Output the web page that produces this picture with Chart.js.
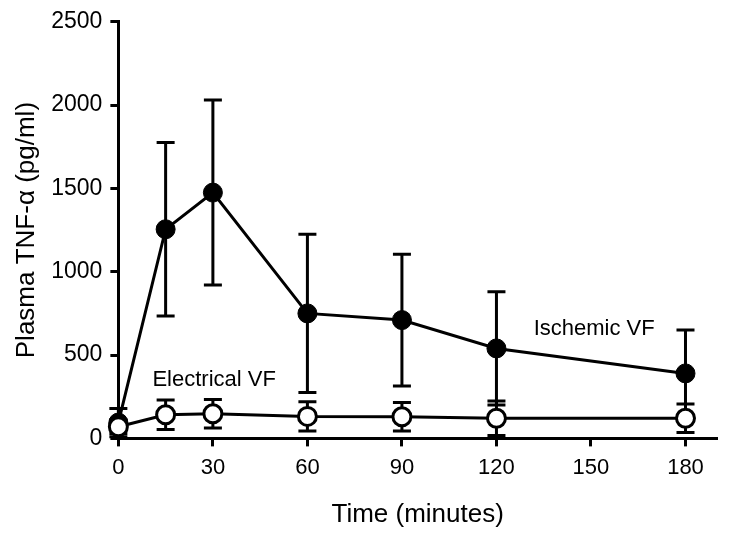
<!DOCTYPE html>
<html>
<head>
<meta charset="utf-8">
<script src="https://cdn.jsdelivr.net/npm/chart.js@4/dist/chart.umd.min.js"></script>
<style>
  body { margin: 0; background: #fff; }
  #wrap { width: 729px; height: 538px; }
</style>
</head>
<body>
<div id="wrap"><canvas id="myChart" width="729" height="538"></canvas></div>
<script>
// data (mean and error)
var times = [0, 15, 30, 60, 90, 120, 180];
var ischemicMean = [95, 1255, 1475, 750, 710, 540, 390];
var ischemicErr = [85, 520, 555, 475, 395, 340, 260];
var electricalMean = [70, 142, 148, 132, 130, 121, 121];
var electricalErr = [40, 88, 85, 88, 85, 104, 85];
var yTicks = [0, 500, 1000, 1500, 2000, 2500];
var xTicks = [0, 30, 60, 90, 120, 150, 180];

var fontFam = "Arial, 'Liberation Sans', sans-serif";

function toPoints(xs, ys) {
  var out = [];
  for (var i = 0; i < xs.length; i++) {
    out.push({ x: xs[i], y: ys[i] });
  }
  return out;
}

// error bars drawn under the markers
var errorBars = {
  id: "errorBars",
  beforeDatasetsDraw: function (chart) {
    var ctx = chart.ctx;
    var xs = chart.scales.x;
    var ys = chart.scales.y;
    var sets = [[ischemicMean, ischemicErr], [electricalMean, electricalErr]];
    ctx.save();
    ctx.strokeStyle = "#000";
    ctx.lineWidth = 3;
    for (var s = 0; s < sets.length; s++) {
      for (var i = 0; i < times.length; i++) {
        var px = xs.getPixelForValue(times[i]);
        var top = ys.getPixelForValue(sets[s][0][i] + sets[s][1][i]);
        var bot = ys.getPixelForValue(Math.max(sets[s][0][i] - sets[s][1][i], 0));
        ctx.beginPath();
        ctx.moveTo(px, top);
        ctx.lineTo(px, bot);
        ctx.moveTo(px - 9, top);
        ctx.lineTo(px + 9, top);
        ctx.moveTo(px - 9, bot);
        ctx.lineTo(px + 9, bot);
        ctx.stroke();
      }
    }
    ctx.restore();
  }
};

var seriesLabels = {
  id: "seriesLabels",
  afterDatasetsDraw: function (chart) {
    var ctx = chart.ctx;
    var xs = chart.scales.x;
    var ys = chart.scales.y;
    ctx.save();
    ctx.fillStyle = "#000";
    ctx.font = "22px " + fontFam;
    ctx.textBaseline = "middle";
    ctx.textAlign = "left";
    ctx.fillText("Electrical VF", xs.getPixelForValue(10.8), ys.getPixelForValue(353));
    ctx.fillText("Ischemic VF", xs.getPixelForValue(131.8), ys.getPixelForValue(658));
    ctx.restore();
  }
};

function createChart() {
  var ctx = document.getElementById("myChart").getContext("2d");
  new Chart(ctx, {
    type: "scatter",
    data: {
      datasets: [
        {
          label: "Electrical VF",
          data: toPoints(times, electricalMean),
          showLine: true,
          clip: false,
          borderColor: "#000",
          borderWidth: 3,
          pointRadius: 9,
          pointBorderWidth: 3,
          pointBackgroundColor: "#fff",
          pointBorderColor: "#000"
        },
        {
          label: "Ischemic VF",
          data: toPoints(times, ischemicMean),
          showLine: true,
          clip: false,
          borderColor: "#000",
          borderWidth: 3,
          pointRadius: 9.5,
          pointBorderWidth: 1,
          pointBackgroundColor: "#000",
          pointBorderColor: "#000"
        }
      ]
    },
    options: {
      responsive: false,
      animation: false,
      layout: { padding: { top: 7, right: 11, left: 11, bottom: 8 } },
      plugins: {
        legend: { display: false },
        tooltip: { enabled: false }
      },
      scales: {
        x: {
          type: "linear",
          min: 0,
          max: 190,
          afterBuildTicks: function (axis) {
            axis.ticks = xTicks.map(function (v) { return { value: v }; });
          },
          grid: {
            drawOnChartArea: false,
            drawTicks: true,
            tickLength: 8,
            tickWidth: 3,
            tickColor: "#000"
          },
          border: { display: true, color: "#000", width: 3 },
          ticks: {
            color: "#000",
            padding: 8.5,
            maxRotation: 0,
            font: { family: fontFam, size: 22 },
            callback: function (v) { return String(v); }
          },
          title: {
            display: true,
            text: "Time (minutes)",
            color: "#000",
            padding: { top: 9, bottom: 0 },
            font: { family: fontFam, size: 26 }
          }
        },
        y: {
          min: 0,
          max: 2500,
          afterBuildTicks: function (axis) {
            axis.ticks = yTicks.map(function (v) { return { value: v }; });
          },
          grid: {
            drawOnChartArea: false,
            drawTicks: true,
            tickLength: 8,
            tickWidth: 3,
            tickColor: "#000"
          },
          border: { display: true, color: "#000", width: 3 },
          ticks: {
            color: "#000",
            padding: 8,
            font: { family: fontFam, size: 23 },
            callback: function (v) { return String(v); }
          },
          title: {
            display: true,
            text: "Plasma TNF-α (pg/ml)",
            color: "#000",
            padding: { top: 0, bottom: 1 },
            font: { family: fontFam, size: 26 }
          }
        }
      }
    },
    plugins: [errorBars, seriesLabels]
  });
}
createChart();
</script>
</body>
</html>
